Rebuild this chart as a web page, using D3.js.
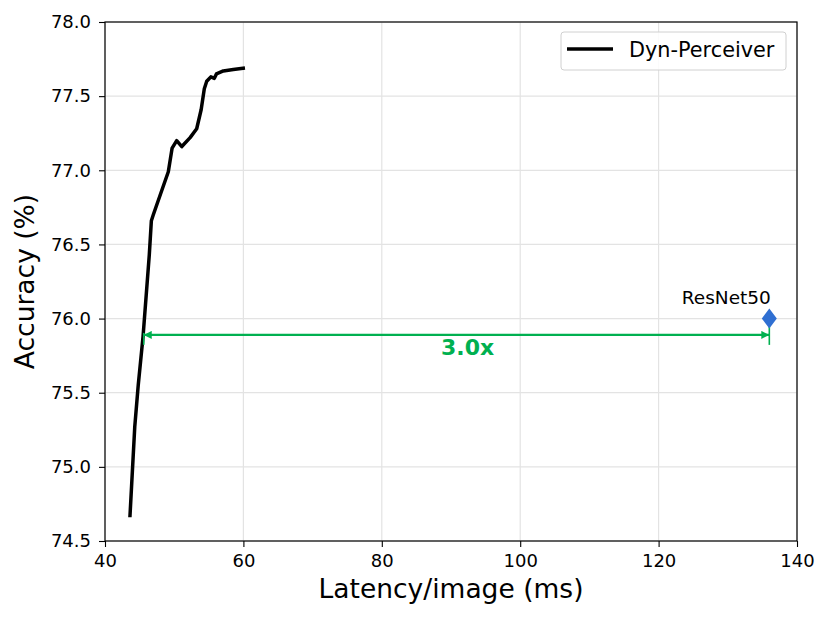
<!DOCTYPE html>
<html><head><meta charset="utf-8">
<script src="https://cdn.jsdelivr.net/npm/d3@7"></script>
<style>body{margin:0;background:#fff;} text{font-family:"DejaVu Sans",sans-serif;}</style>
</head><body>
<svg id="c" width="830" height="618"></svg>
<script>
const latency = [43.6, 44.3, 44.8, 45.5, 46.4, 46.7, 46.98, 47.95, 49.15, 49.7, 50.36, 51.1, 52.3, 53.25, 53.9, 54.35, 54.7, 55.3, 55.8, 56.1, 57.1, 58.54, 60.23];
const accuracy = [74.66, 75.27, 75.55, 75.88, 76.43, 76.66, 76.70, 76.83, 76.99, 77.15, 77.20, 77.16, 77.22, 77.28, 77.41, 77.55, 77.60, 77.63, 77.62, 77.65, 77.67, 77.68, 77.69];
const resnetLatency = [136];
const resnetAccuracy = [76.0];
const resnetLabel = ["ResNet50"];
const arrowY = 75.89;
const arrowFrom = 45.6;
const speedupLabel = "3.0x";
const xTicks = [40, 60, 80, 100, 120, 140];
const yTicks = [74.5, 75.0, 75.5, 76.0, 76.5, 77.0, 77.5, 78.0];

const svg = d3.select("#c");
const L = 105, R = 797, T = 22, B = 541;
const x = d3.scaleLinear().domain([40, 140]).range([L, R]);
const y = d3.scaleLinear().domain([74.5, 78.0]).range([B, T]);
const green = "#00b050";

// grid
svg.append("g").selectAll("line").data(xTicks).join("line")
  .attr("x1", d => x(d)).attr("x2", d => x(d)).attr("y1", T).attr("y2", B)
  .attr("stroke", "#e3e3e3").attr("stroke-width", 1.2);
svg.append("g").selectAll("line").data(yTicks).join("line")
  .attr("y1", d => y(d)).attr("y2", d => y(d)).attr("x1", L).attr("x2", R)
  .attr("stroke", "#e3e3e3").attr("stroke-width", 1.2);

// axes
const xa = svg.append("g").attr("transform", `translate(0,${B})`)
  .call(d3.axisBottom(x).tickValues(xTicks).tickFormat(d3.format("d")).tickSize(6).tickSizeOuter(0));
const ya = svg.append("g").attr("transform", `translate(${L},0)`)
  .call(d3.axisLeft(y).tickValues(yTicks).tickFormat(d3.format(".1f")).tickSize(6).tickSizeOuter(0));
[xa, ya].forEach(a => {
  a.select(".domain").remove();
  a.selectAll("text").attr("font-size", 18).attr("fill", "#000").attr("font-family", "DejaVu Sans");
  a.selectAll("line").attr("stroke", "#000").attr("stroke-width", 1.1);
});
xa.selectAll("text").attr("dy", "0.71em").attr("y", 13);
ya.selectAll("text").attr("x", -14);

// frame
svg.append("rect").attr("x", L).attr("y", T).attr("width", R - L).attr("height", B - T)
  .attr("fill", "none").attr("stroke", "#000").attr("stroke-width", 1.2);

// curve
const line = d3.line().x((d, i) => x(latency[i])).y((d, i) => y(accuracy[i]));
svg.append("path").datum(latency).attr("d", line)
  .attr("fill", "none").attr("stroke", "#000").attr("stroke-width", 3.5)
  .attr("stroke-linejoin", "round");

// arrow
const defs = svg.append("defs");
defs.append("marker").attr("id", "ah").attr("viewBox", "0 0 10 10").attr("refX", 10).attr("refY", 5)
  .attr("markerWidth", 12).attr("markerHeight", 8).attr("markerUnits", "userSpaceOnUse")
  .attr("orient", "auto-start-reverse")
  .append("path").attr("d", "M0,0 L10,5 L0,10 Z").attr("fill", green);
svg.append("line").attr("x1", x(arrowFrom)).attr("x2", x(resnetLatency[0]))
  .attr("y1", y(arrowY)).attr("y2", y(arrowY))
  .attr("stroke", green).attr("stroke-width", 2.2)
  .attr("marker-start", "url(#ah)").attr("marker-end", "url(#ah)");
svg.append("line").attr("x1", x(arrowFrom)).attr("x2", x(arrowFrom))
  .attr("y1", y(arrowY) - 2).attr("y2", y(arrowY) + 10).attr("stroke", green).attr("stroke-width", 1.6);
svg.append("line").attr("x1", x(resnetLatency[0])).attr("x2", x(resnetLatency[0]))
  .attr("y1", y(resnetAccuracy[0])).attr("y2", y(arrowY) + 10).attr("stroke", green).attr("stroke-width", 1.6);
svg.append("text").attr("x", x(92.4)).attr("y", y(arrowY) + 20)
  .attr("text-anchor", "middle").attr("font-size", 22).attr("font-weight", "bold")
  .attr("fill", green).text(speedupLabel);

// ResNet50 marker
svg.selectAll(".rn").data(resnetLatency).join("path").attr("class", "rn")
  .attr("d", "M0,-10 L7.5,0 L0,10 L-7.5,0 Z")
  .attr("transform", (d, i) => `translate(${x(d)},${y(resnetAccuracy[i])})`)
  .attr("fill", "#2f6fd2");
svg.selectAll(".rnl").data(resnetLabel).join("text").attr("class", "rnl")
  .attr("x", (d, i) => x(resnetLatency[i]) - 43).attr("y", (d, i) => y(resnetAccuracy[i]) - 15)
  .attr("text-anchor", "middle").attr("font-size", 18.5).attr("fill", "#000").text(d => d);

// legend
const lg = svg.append("g");
lg.append("rect").attr("x", 561).attr("y", 32).attr("width", 225).attr("height", 38).attr("rx", 3)
  .attr("fill", "#fff").attr("fill-opacity", 0.85).attr("stroke", "#d0d0d0").attr("stroke-width", 1);
lg.append("line").attr("x1", 567).attr("x2", 613).attr("y1", 49).attr("y2", 49)
  .attr("stroke", "#000").attr("stroke-width", 3.4);
lg.append("text").attr("x", 629).attr("y", 56.5).attr("font-size", 20.8).attr("fill", "#000").text("Dyn-Perceiver");

// axis titles
svg.append("text").attr("x", (L + R) / 2).attr("y", 598).attr("text-anchor", "middle")
  .attr("font-size", 26.5).text("Latency/image (ms)");
svg.append("text").attr("transform", `translate(34,${(T + B) / 2}) rotate(-90)`)
  .attr("text-anchor", "middle").attr("font-size", 26.5).text("Accuracy (%)");
</script>
</body></html>
